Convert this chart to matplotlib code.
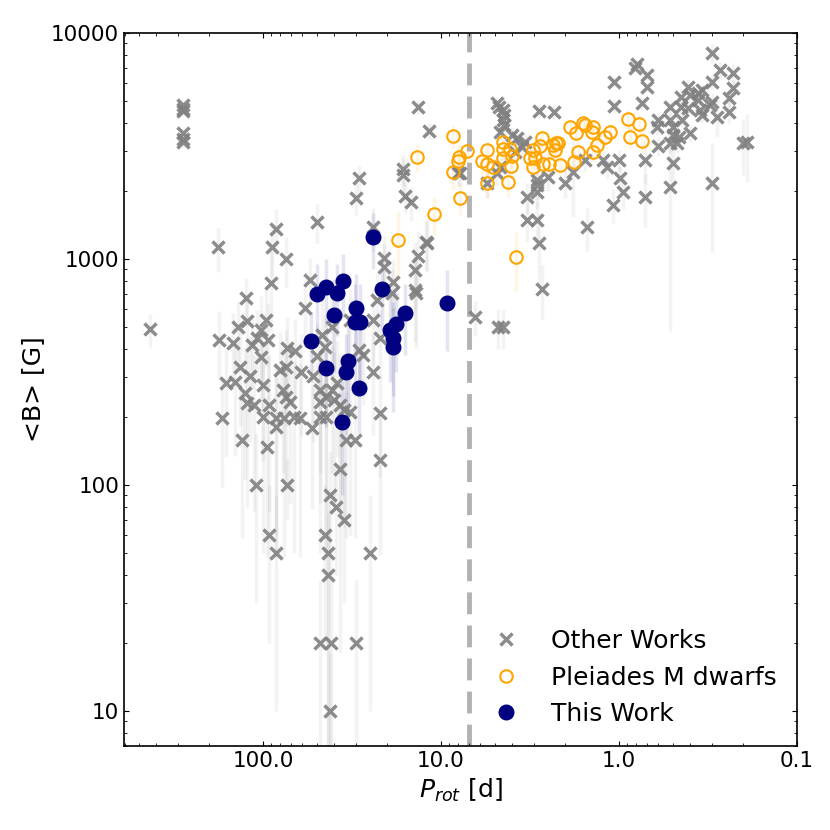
import numpy as np
import matplotlib
matplotlib.use('Agg')
import matplotlib.pyplot as plt
from matplotlib.ticker import FormatStrFormatter, NullFormatter

# Other works: rotation period [d], mean field <B> [G], error on <B> [G]
other_prot = [110, 73, 42, 39, 35, 93, 45, 84, 43, 25, 43, 48, 41.5, 30, 42,
              430, 180, 89, 84, 74, 90, 124, 54.5, 58, 138, 123, 96, 103, 177, 147,
              115, 94, 108, 103, 73, 66, 50, 45, 27.5, 135, 118, 161, 143, 127, 100,
              80, 74, 77, 74, 70.5, 123, 113, 92, 171, 100, 84, 76, 67, 62, 53,
              48, 44, 84, 61, 52.5, 48, 48, 44, 41, 38.5, 40, 37, 35, 32.5, 29,
              24, 22, 22, 34, 30.5, 37, 131, 95, 23, 24, 21, 21, 18.6, 18.9, 22,
              13.4, 14, 14, 13.8, 12, 41, 46.5, 32.5,
              280, 280, 280, 280, 280, 280, 13.4, 11.7, 29, 30, 16.4, 16.4, 15.9, 14.7,
              50, 24, 12.1, 8,
              4.85, 4.7, 4.5, 4.4, 4.5, 4.4, 4.65, 4.0, 3.74, 3.37, 3.5, 3.84, 4.65, 4.85,
              5.5, 7.8, 3.3, 2.9, 2.9, 2.9, 2.9, 3.3, 2.8, 2.7, 2.8, 2.32, 2.5, 2.0,
              1.81, 1.55, 1.51, 1.23, 1.17, 1.0, 0.99, 0.95, 1.08, 1.07, 1.07, 0.79, 0.81, 0.70,
              0.70, 0.74, 0.71, 0.71, 0.6, 0.61, 0.6, 0.52, 0.52, 0.5, 0.5, 0.52, 0.47, 0.5,
              0.52, 0.45, 0.45, 0.41, 0.4, 0.41, 0.44, 0.4, 0.46, 0.36, 0.36, 0.34, 0.35, 0.34,
              0.30, 0.30, 0.27, 0.30, 0.31, 0.28, 0.30, 0.23, 0.23, 0.24, 0.24, 0.19, 0.20,
              6.45, 4.8, 4.5]
other_bf = [100, 100, 90, 80, 70, 60, 60, 50, 50, 50, 40, 20, 20, 20, 10,
            490, 1130, 1130, 1360, 1000, 780, 670, 807, 610, 500, 530, 537, 485, 438, 425,
            415, 438, 445, 370, 405, 390, 372, 410, 375, 333, 305, 283, 285, 256, 278,
            323, 333, 263, 245, 233, 230, 226, 226, 198, 200, 198, 198, 200, 198, 178,
            200, 200, 180, 315, 305, 263, 233, 245, 263, 283, 238, 226, 215, 210, 396,
            316, 208, 129, 158, 158, 118, 158, 148, 659, 537, 1010, 920, 790, 705, 445,
            1030, 894, 730, 705, 1180, 500, 460, 537,
            4800, 4600, 4500, 3600, 3400, 3300, 4700, 3690, 2280, 1860, 2500, 2360, 1900, 1780,
            1460, 1380, 1190, 2400,
            4900, 4700, 4560, 4330, 4120, 3920, 3650, 3540, 3430, 3300, 3130, 2980, 2550, 2400,
            2170, 2400, 1880, 2240, 2120, 1970, 1490, 1490, 1180, 740, 4520, 4470, 2300, 2170,
            2430, 2740, 1380, 2740, 2550, 2740, 2280, 1970, 1740, 6100, 4750, 7300, 7000, 6500,
            5770, 4900, 2740, 1880, 4120, 3830, 3160, 4700, 4120, 3830, 3540, 3260, 3260, 2660,
            2080, 5200, 4700, 5770, 5320, 4650, 4120, 3600, 3470, 5420, 5050, 5590, 4560, 4330,
            8160, 6100, 6860, 4950, 4810, 4250, 2170, 6650, 5700, 5160, 4480, 3300, 3260,
            555, 500, 500]
other_err = [70, 30, 50, 40, 40, 40, 40, 40, 45, 40, 35, 18, 18, 18, 8,
             80, 250, 300, 300, 250, 300, 150, 200, 200, 150, 150, 200, 200, 150, 150,
             150, 200, 150, 150, 150, 150, 150, 150, 150, 150, 150, 150, 150, 150, 150,
             150, 150, 150, 150, 150, 150, 150, 150, 100, 150, 150, 150, 150, 150, 100,
             150, 150, 120, 150, 150, 150, 150, 150, 150, 150, 150, 150, 150, 150, 150,
             150, 100, 80, 100, 100, 100, 100, 100, 200, 200, 250, 250, 200, 200, 150,
             300, 300, 300, 300, 300, 200, 200, 200,
             200, 200, 200, 200, 200, 200, 300, 300, 300, 300, 400, 400, 300, 300,
             300, 300, 300, 300,
             300, 300, 300, 300, 300, 300, 300, 300, 300, 300, 300, 300, 300, 300,
             300, 300, 300, 300, 300, 300, 300, 300, 400, 200, 300, 300, 300, 300,
             900, 300, 300, 300, 300, 300, 300, 300, 300, 300, 300, 300, 300, 300,
             300, 300, 600, 500, 300, 300, 300, 300, 300, 300, 300, 300, 300, 600,
             1600, 500, 300, 500, 300, 300, 300, 300, 300, 300, 300, 300, 500, 300,
             800, 500, 600, 500, 300, 800, 1100, 700, 500, 500, 500, 1100, 900,
             100, 100, 100]

# Pleiades M dwarfs
pleiades_prot = [8.6, 13.6, 7.9, 8.0, 8.6, 7.8, 11, 17.5, 7.1,
                 5.5, 5.9, 5.5, 5.1, 5.5, 4.5, 4.5, 4.1, 4.5, 4.0, 4.05, 4.2, 3.8,
                 3.04, 3.16, 2.96, 3.04, 2.7, 2.78, 2.67, 2.47, 2.35, 2.26, 2.2, 2.29, 2.15,
                 1.88, 1.74, 1.59, 1.55, 1.4, 1.42, 1.7, 1.79, 1.4, 1.33, 1.2, 1.12,
                 0.89, 0.77, 0.87, 0.74]
pleiades_bf = [3500, 2830, 2830, 2710, 2430, 1860, 1580, 1210, 3000,
               3040, 2710, 2630, 2550, 2170, 3300, 3070, 3070, 2800, 2850, 2580, 2190, 1020,
               3040, 2800, 2800, 2550, 3430, 3160, 2630, 2630, 3200, 3260, 3260, 3040, 2600,
               3830, 3600, 4000, 3920, 3830, 3650, 2980, 2680, 2980, 3200, 3470, 3650,
               4170, 3950, 3470, 3330]
pleiades_err = [400, 400, 400, 400, 400, 300, 300, 400, 300,
                300, 400, 300, 300, 300, 300, 300, 300, 300, 300, 300, 300, 300,
                300, 300, 300, 300, 300, 300, 300, 300, 300, 300, 300, 300, 300,
                300, 300, 300, 300, 300, 300, 300, 300, 300, 300, 300, 300,
                400, 400, 400, 400]

# This work
this_prot = [24, 50, 44, 38.5, 35.5, 21.5, 9.3, 40, 30, 30.5, 28.5,
             16, 18, 19.3, 18.7, 18.7, 54, 44, 33.5, 34, 29, 36]
this_bf = [1250, 700, 750, 705, 800, 735, 640, 565, 606, 525, 525,
           578, 516, 485, 447, 410, 435, 330, 355, 316, 270, 190]
this_err = [350, 250, 250, 250, 250, 250, 250, 250, 250, 250, 250,
            200, 200, 200, 200, 200, 150, 150, 150, 150, 100, 100]

p_split = 7.0  # dashed separation line [d]

fig = plt.figure(figsize=(8.3, 8.3), dpi=100)
ax = fig.add_axes([0.1494, 0.1012, 0.8108, 0.859])
ax.set_xscale('log')
ax.set_yscale('log')

ax.errorbar(other_prot, other_bf, yerr=other_err, fmt='none', ecolor='gray',
            elinewidth=2.5, alpha=0.09, zorder=1)
ax.errorbar(pleiades_prot, pleiades_bf, yerr=pleiades_err, fmt='none', ecolor='orange',
            elinewidth=2.5, alpha=0.1, zorder=1)
ax.errorbar(this_prot, this_bf, yerr=this_err, fmt='none', ecolor='navy',
            elinewidth=2.5, alpha=0.1, zorder=1)

ax.plot(other_prot, other_bf, 'x', color='gray', ms=9, mew=2.5, alpha=0.9,
        label='Other Works', zorder=2)
ax.plot(pleiades_prot, pleiades_bf, 'o', mfc='none', mec='orange', ms=9, mew=1.5,
        label='Pleiades M dwarfs', zorder=3)
ax.plot(this_prot, this_bf, 'o', color='navy', ms=10.5,
        label='This Work', zorder=4)

ax.axvline(p_split, color='gray', alpha=0.6, lw=3.5, dashes=(4.5, 2.3), zorder=1.5)

ax.set_xlim(604, 0.1)
ax.set_ylim(7, 10000)

ax.xaxis.set_major_formatter(FormatStrFormatter('%.1f'))
ax.xaxis.set_minor_formatter(NullFormatter())
ax.yaxis.set_major_formatter(FormatStrFormatter('%d'))
ax.yaxis.set_minor_formatter(NullFormatter())
ax.tick_params(which='both', direction='in', top=True, right=True, labelsize=15.5)
for s in ax.spines.values():
    s.set_linewidth(1.2)

ax.set_xlabel(r'$P_{rot}$ [d]', fontsize=18)
ax.set_ylabel('<B> [G]', fontsize=18)

ax.legend(loc='lower right', frameon=False, fontsize=18, borderaxespad=0.4)

fig.savefig('out.png', dpi=100)
